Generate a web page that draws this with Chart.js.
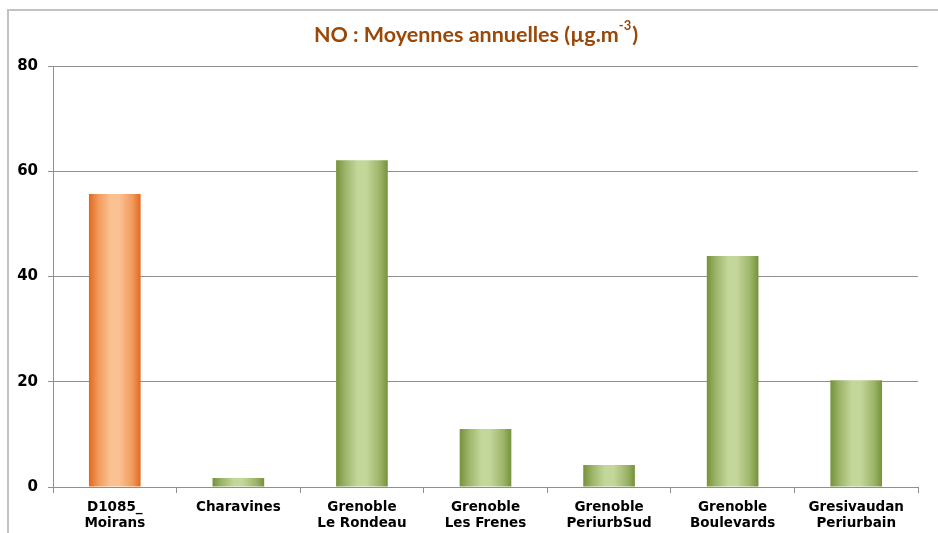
<!DOCTYPE html>
<html>
<head>
<meta charset="utf-8">
<title>NO : Moyennes annuelles</title>
<script src="https://cdn.jsdelivr.net/npm/chart.js@4/dist/chart.umd.min.js"></script>
<style>
    body { margin: 0; background: #fff; overflow: hidden; }
    #wrap { position: relative; width: 938px; height: 533px; }
    #frame {
        position: absolute; left: 7px; top: 9px; width: 960px; height: 560px;
        border-top: 2px solid #c3c3c3; border-left: 2px solid #c3c3c3;
        pointer-events: none;
    }
    canvas { position: absolute; left: 0; top: 0; }
</style>
</head>
<body>
<div id="wrap">
    <canvas id="chart-no" width="938" height="533"></canvas>
    <div id="frame"></div>
</div>
<script>
// Annual NO averages per station
const stations = [
    ['D1085_', 'Moirans'],
    'Charavines',
    ['Grenoble', 'Le Rondeau'],
    ['Grenoble', 'Les Frenes'],
    ['Grenoble', 'PeriurbSud'],
    ['Grenoble', 'Boulevards'],
    ['Gresivaudan', 'Periurbain']
];
const noValues = [55.7, 1.7, 62.1, 11.0, 4.2, 43.9, 20.3];
const yTicks = [0, 20, 40, 60, 80];
const titleParts = ['NO : Moyennes annuelles (µg.m', '-3', ')'];

document.addEventListener('DOMContentLoaded', function () {
    const barPercentage = 0.418;
    const gridColor = '#8f8f8f';
    const titleColor = '#9a4808';
    const orange = { edge: '#e2681c', mid: '#f29a5c', light: '#fac292' };
    const green = { edge: '#76923b', mid: '#9db56a', light: '#c4d79b' };

    // Horizontal gradient across each bar (dark edges, light centre)
    function barGradient(context) {
        const chart = context.chart;
        const pal = context.dataIndex === 0 ? orange : green;
        const xScale = chart.scales.x;
        if (context.type !== 'data' || !xScale || !chart.chartArea) return pal.light;

        const center = xScale.getPixelForValue(context.dataIndex);
        const half = (xScale.width / stations.length) * barPercentage / 2;
        const g = chart.ctx.createLinearGradient(center - half, 0, center + half, 0);
        g.addColorStop(0, pal.edge);
        g.addColorStop(0.18, pal.mid);
        g.addColorStop(0.42, pal.light);
        g.addColorStop(0.58, pal.light);
        g.addColorStop(0.84, pal.mid);
        g.addColorStop(1, pal.edge);
        return g;
    }

    // Title with a real superscript for the unit
    const titlePlugin = {
        id: 'unitTitle',
        afterDraw(chart) {
            const ctx = chart.ctx;
            const mainFont = 'bold 21.5px Lato';
            const supFont = 'bold 13px Lato';
            ctx.save();
            ctx.fillStyle = titleColor;
            ctx.textBaseline = 'alphabetic';
            ctx.textAlign = 'left';
            ctx.font = mainFont;
            const w0 = ctx.measureText(titleParts[0]).width;
            const w2 = ctx.measureText(titleParts[2]).width;
            ctx.font = supFont;
            const w1 = ctx.measureText(titleParts[1]).width;
            let x = 476 - (w0 + w1 + w2 + 1) / 2;
            ctx.font = mainFont;
            ctx.fillText(titleParts[0], x, 42);
            x += w0;
            ctx.font = supFont;
            ctx.fillText(titleParts[1], x, 30);
            x += w1 + 1;
            ctx.font = mainFont;
            ctx.fillText(titleParts[2], x, 42);
            ctx.restore();
        }
    };

    new Chart(document.getElementById('chart-no'), {
        type: 'bar',
        data: {
            labels: stations,
            datasets: [{
                data: noValues,
                backgroundColor: barGradient,
                borderWidth: 0,
                barPercentage: barPercentage,
                categoryPercentage: 1
            }]
        },
        plugins: [titlePlugin],
        options: {
            responsive: false,
            animation: false,
            layout: { padding: { left: 0, right: 20, top: 66, bottom: 0 } },
            plugins: {
                legend: { display: false },
                tooltip: { enabled: false },
                title: { display: false }
            },
            scales: {
                x: {
                    grid: {
                        offset: true,
                        drawOnChartArea: false,
                        drawTicks: true,
                        tickLength: 6,
                        color: gridColor
                    },
                    border: { color: gridColor },
                    ticks: {
                        color: '#000',
                        padding: 6,
                        maxRotation: 0,
                        autoSkip: false,
                        font: { family: 'DejaVu Sans', size: 13.5, weight: 'bold', lineHeight: 1.2 }
                    },
                    afterFit: function (scale) { scale.height = 46; }
                },
                y: {
                    min: 0,
                    max: 80,
                    afterBuildTicks: function (scale) {
                        scale.ticks = yTicks.map(v => ({ value: v }));
                    },
                    grid: { color: gridColor, tickLength: 5 },
                    border: { color: gridColor },
                    ticks: {
                        color: '#000',
                        padding: 10,
                        font: { family: 'DejaVu Sans', size: 15, weight: 'bold' }
                    },
                    afterFit: function (scale) { scale.width = 53; }
                }
            }
        }
    });
});
</script>
</body>
</html>
